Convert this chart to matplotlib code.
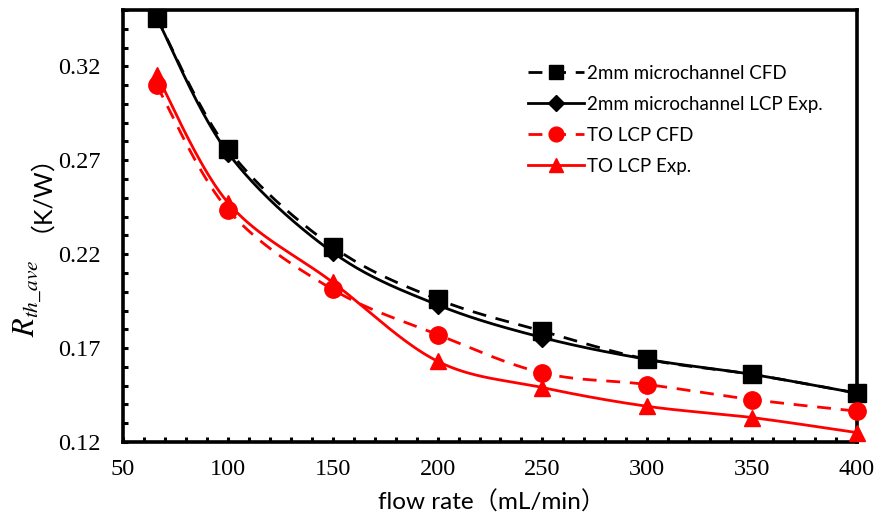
import numpy as np
import matplotlib
matplotlib.use("Agg")
import matplotlib.pyplot as plt
from matplotlib.ticker import MultipleLocator
from matplotlib.lines import Line2D

# ---- data ----
flow = [66, 100, 150, 200, 250, 300, 350, 400]
ch_cfd = [0.346, 0.276, 0.224, 0.196, 0.179, 0.164, 0.156, 0.146]
ch_exp = [0.346, 0.274, 0.221, 0.193, 0.1756, 0.164, 0.156, 0.146]
to_cfd = [0.310, 0.2437, 0.2012, 0.1772, 0.1568, 0.1506, 0.1426, 0.1364]
to_exp = [0.3156, 0.2475, 0.205, 0.163, 0.149, 0.139, 0.133, 0.125]
labels = ["2mm microchannel CFD", "2mm microchannel LCP Exp.", "TO LCP CFD", "TO LCP Exp."]
xticks = [50, 100, 150, 200, 250, 300, 350, 400]
yticks = [0.12, 0.17, 0.22, 0.27, 0.32]

plt.rcParams['mathtext.fontset'] = 'stix'


def smooth(x, y, n=40):
    """Excel-style smoothed line (Catmull-Rom Bezier through the points)."""
    p = np.column_stack([x, y]).astype(float)
    out = []
    m = len(p)
    t = np.linspace(0, 1, n)[:, None]
    for i in range(m - 1):
        p0 = p[i - 1] if i > 0 else p[i]
        p1 = p[i]
        p2 = p[i + 1]
        p3 = p[i + 2] if i + 2 < m else p[i + 1]
        c1 = p1 + (p2 - p0) / 6.0
        c2 = p2 - (p3 - p1) / 6.0
        seg = ((1 - t) ** 3) * p1 + 3 * ((1 - t) ** 2) * t * c1 + 3 * (1 - t) * t ** 2 * c2 + t ** 3 * p2
        out.append(seg if i == 0 else seg[1:])
    s = np.vstack(out)
    return s[:, 0], s[:, 1]


fig = plt.figure(figsize=(8.84, 5.12), dpi=100)
ax = fig.add_axes([123 / 884, 1 - 442 / 512, (857 - 123) / 884, (442 - 10) / 512])

series = [
    (ch_cfd, 'black', (0, (5, 3.5)), 's', 12.5),
    (ch_exp, 'black', '-', 'D', 9.5),
    (to_cfd, 'red', (0, (5, 3.5)), 'o', 12.5),
    (to_exp, 'red', '-', '^', 12),
]
handles = []
for (ys, col, ls, mk, ms), lab in zip(series, labels):
    sx, sy = smooth(flow, ys)
    ax.plot(sx, sy, color=col, ls=ls, lw=2, clip_on=False, zorder=3)
    ax.plot(flow, ys, ls='none', marker=mk, ms=ms, color=col, mec=col, clip_on=False, zorder=4)
    handles.append(Line2D([], [], color=col, ls=ls, lw=2, marker=mk, ms=ms * 0.85, mec=col))

ax.set_xlim(50, 400)
ax.set_ylim(0.12, 0.35)
ax.set_xticks(xticks)
ax.set_yticks(yticks)
ax.xaxis.set_minor_locator(MultipleLocator(10))
ax.yaxis.set_minor_locator(MultipleLocator(0.01))
ax.set_xticklabels([str(v) for v in xticks])
ax.set_yticklabels([f"{v:.2f}" for v in yticks])
ax.tick_params(which='both', direction='in', length=3.5, width=2.2, top=False, right=False)
ax.tick_params(axis='y', labelsize=17.5, pad=16)
ax.tick_params(axis='x', labelsize=17.5, pad=12)
for lab in ax.get_xticklabels() + ax.get_yticklabels():
    lab.set_fontfamily('Liberation Serif')
for sp in ax.spines.values():
    sp.set_linewidth(2.6)

fig.text(492 / 884, 1 - 502 / 512, "flow rate（mL/min）", ha='center', va='center',
         fontsize=17.5, family=['Lato', 'Noto Sans CJK SC'])
fig.text(28 / 884, 1 - 298 / 512, r"$R_{th\_ave}$", rotation=90, ha='center', va='center', fontsize=22)
fig.text(27 / 884, 1 - 180 / 512, "（K/W）", rotation=90, ha='center', va='center',
         fontsize=18, family=['Lato', 'Noto Sans CJK SC'])

leg = ax.legend(handles, labels, loc='upper left', frameon=False, handlelength=3.0,
                labelspacing=0.74, handletextpad=0.15, borderaxespad=0, borderpad=0,
                prop={'family': 'Lato', 'size': 13.5})
leg.set_bbox_to_anchor(((528 - 123) / 734, (442 - 65) / 432), transform=ax.transAxes)

fig.savefig("out.png", dpi=100)
